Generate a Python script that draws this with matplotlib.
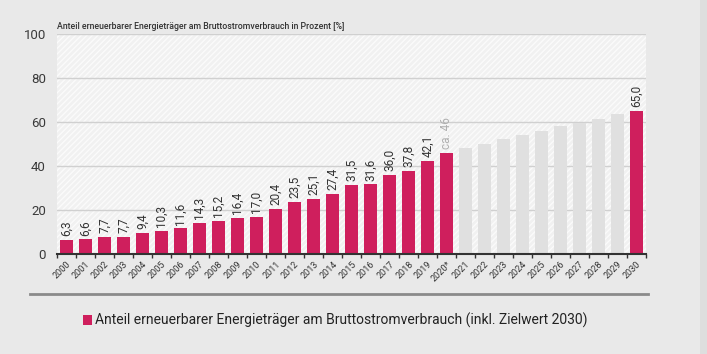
import numpy as np
import matplotlib.pyplot as plt
from matplotlib.patches import Rectangle
from matplotlib.lines import Line2D

plt.rcParams['font.family'] = ['Roboto', 'DejaVu Sans']

years = ['2000', '2001', '2002', '2003', '2004', '2005', '2006', '2007', '2008', '2009',
         '2010', '2011', '2012', '2013', '2014', '2015', '2016', '2017', '2018', '2019',
         '2020*', '2021', '2022', '2023', '2024', '2025', '2026', '2027', '2028', '2029', '2030']
share = [6.3, 6.6, 7.7, 7.7, 9.4, 10.3, 11.6, 14.3, 15.2, 16.4,
         17.0, 20.4, 23.5, 25.1, 27.4, 31.5, 31.6, 36.0, 37.8, 42.1,
         46, None, None, None, None, None, None, None, None, None, 65.0]
labels = ['6,3', '6,6', '7,7', '7,7', '9,4', '10,3', '11,6', '14,3', '15,2', '16,4',
          '17,0', '20,4', '23,5', '25,1', '27,4', '31,5', '31,6', '36,0', '37,8', '42,1',
          'ca. 46', '', '', '', '', '', '', '', '', '', '65,0']
# Zielpfad 2021-2029 (grau)
path_years = ['2021', '2022', '2023', '2024', '2025', '2026', '2027', '2028', '2029']
path_vals = [48.3, 50.0, 52.3, 54.0, 55.9, 58.0, 59.7, 61.5, 63.6]

bar_col = '#cf1f5d'
bg = '#e9e9e9'

fig = plt.figure(figsize=(7.07, 3.54), dpi=100, facecolor=bg)
ax = fig.add_axes([57 / 707, 1 - 254 / 354, 589 / 707, 220 / 354])
ax.set_facecolor('#f1f1f1')
ax.add_patch(Rectangle((0, 0), 1, 1, transform=ax.transAxes, facecolor='none',
                       edgecolor='#fbfbfb', hatch='//////', lw=0, zorder=0))

x = np.arange(len(years))
idx = {y: i for i, y in enumerate(years)}
px = [idx[y] for y in path_years]
ax.bar(px, path_vals, width=0.72, color='#e0e0e0', zorder=2)

for i, v in enumerate(share):
    if v is None:
        continue
    ax.bar(i, v, width=0.72, color=bar_col, zorder=3)
    col = '#b0b0b0' if labels[i].startswith('ca') else '#333333'
    ax.text(i, v + 1.8, labels[i], rotation=90, ha='center', va='bottom',
            fontsize=8.5, color=col, zorder=4)

ax.set_xlim(-0.5, len(years) - 0.5)
ax.set_ylim(0, 100)
ax.set_yticks([0, 20, 40, 60, 80, 100])
ax.yaxis.grid(True, color='#d0d0d0', lw=1, zorder=1)
ax.set_axisbelow(True)
for s in ['top', 'right', 'left']:
    ax.spines[s].set_visible(False)
ax.spines['bottom'].set_color('#333333')
ax.spines['bottom'].set_linewidth(1.5)
ax.spines['bottom'].set_zorder(5)
ax.tick_params(axis='y', length=0, labelsize=9.5, labelcolor='#3a3a3a', pad=8)

ax.set_xticks(x)
ax.set_xticklabels(years, rotation=45, ha='right', rotation_mode='anchor',
                   fontsize=6.5, color='#333333')
ax.tick_params(axis='x', length=0, pad=4)
ax.set_xticks(np.arange(-0.5, len(years)), minor=True)
ax.tick_params(axis='x', which='minor', length=3, width=1, color='#333333')

fig.text(57 / 707, 1 - 29 / 354, 'Anteil erneuerbarer Energieträger am Bruttostromverbrauch in Prozent [%]',
         fontsize=6.3, color='#333333', va='baseline', ha='left', fontweight='medium')

fig.add_artist(Line2D([30 / 707, 648 / 707], [1 - 294 / 354, 1 - 294 / 354],
                      color='#8a8a8a', lw=2))
fig.add_artist(Rectangle((83 / 707, 1 - 325 / 354), 9 / 707, 10 / 354,
                         facecolor=bar_col, edgecolor='none'))
fig.text(95 / 707, 1 - 320 / 354,
         'Anteil erneuerbarer Energieträger am Bruttostromverbrauch (inkl. Zielwert 2030)',
         fontsize=10, color='#222222', va='center', ha='left')
fig.add_artist(Rectangle((700 / 707, 0), 7 / 707, 1, facecolor='#dedede', edgecolor='none'))

fig.savefig('out.png', dpi=100, facecolor=bg)
